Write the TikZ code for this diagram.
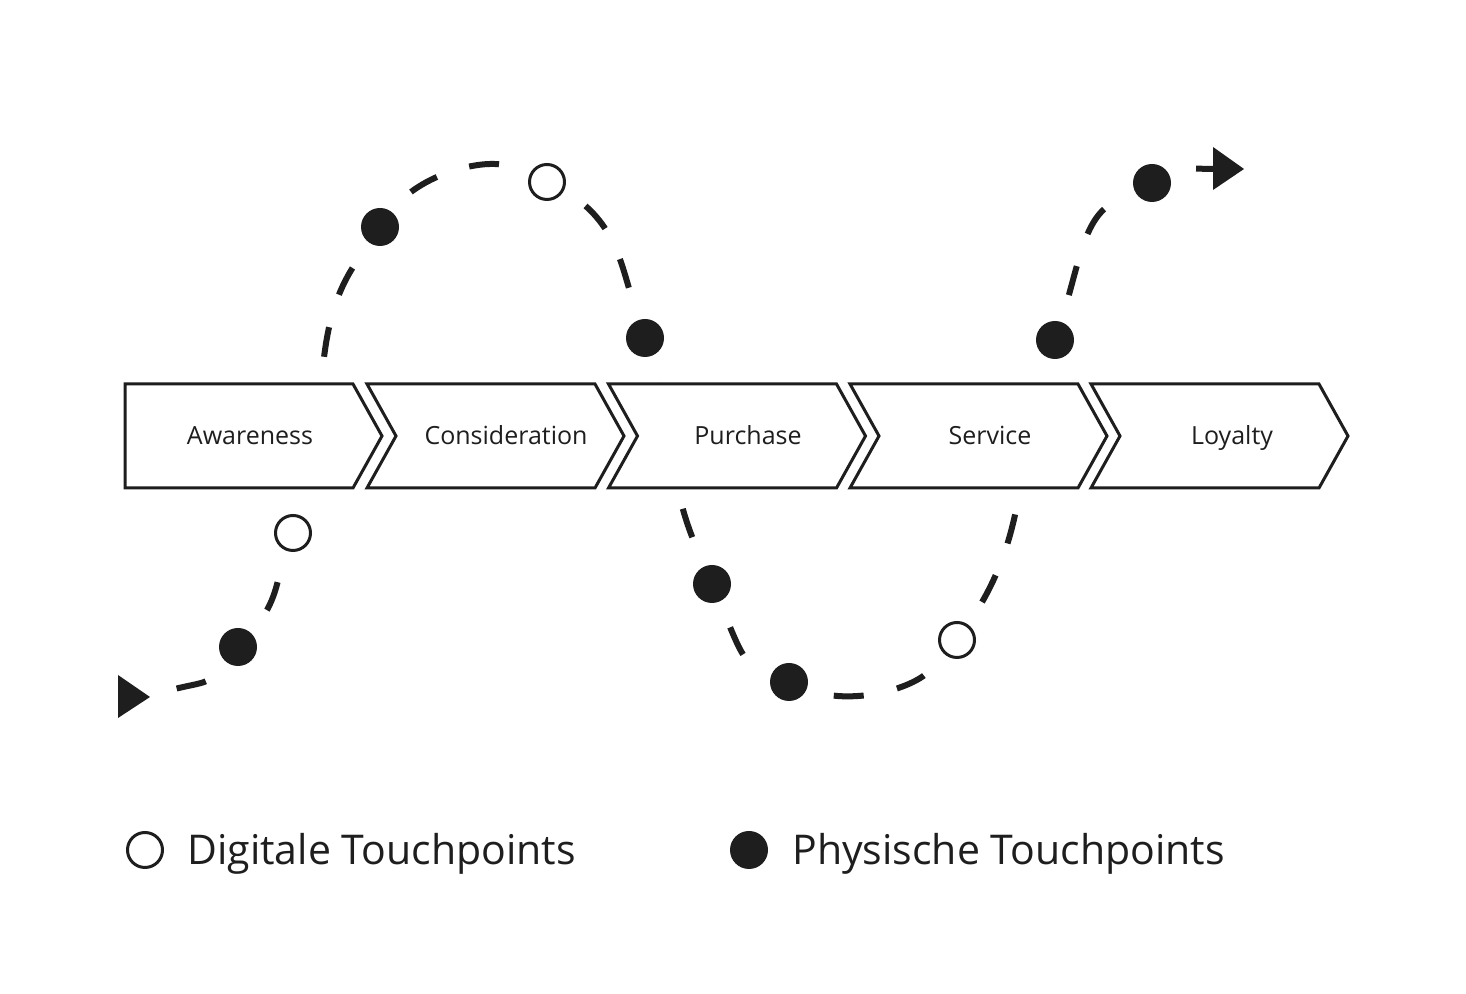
\documentclass[tikz,border=0pt]{standalone}
\usepackage{fontspec}
\setmainfont{Open Sans}
\definecolor{ink}{HTML}{1E1E1E}
\begin{document}
\begin{tikzpicture}[x=0.5pt,y=0.5pt,
  stage/.style={draw=ink, line width=1.5pt, fill=white, line join=miter},
  stagetext/.style={text=ink, font=\fontsize{12.5}{15}\selectfont, anchor=base, inner sep=0pt},
  dig/.style={circle, draw=ink, fill=white, line width=1.5pt, minimum size=17.5pt, inner sep=0pt, outer sep=0pt},
  phy/.style={circle, fill=ink, minimum size=19pt, inner sep=0pt, outer sep=0pt},
  trail/.style={draw=ink, line width=3pt, dash pattern=on 15pt off 17pt, dash phase=18pt, shorten >=12pt},
  headfill/.style={fill=ink},
  legendtext/.style={text=ink, font=\fontsize{20.5}{24}\selectfont, anchor=base west, inner sep=0pt}]
\path[fill=white] (0,0) rectangle (1466,994);
\useasboundingbox (0,0) rectangle (1466,994);

% touchpoints
\coordinate (S) at (150,297);
\node[phy] (m1) at (238,347) {};
\node[dig] (m2) at (293,461) {};
\node[phy] (m3) at (380,767) {};
\node[dig] (m4) at (547,812) {};
\node[phy] (m5) at (645,656) {};
\node[phy] (m6) at (712,410) {};
\node[phy] (m7) at (789,312) {};
\node[dig] (m8) at (957,354) {};
\node[phy] (m9) at (1055,654) {};
\node[phy] (m10) at (1152,811) {};
\coordinate (Eb) at (1213,825);

% journey path
\draw[trail] (S) to[out=22,in=228] (m1);
\draw[trail] (m1) to[out=48,in=252] (m2);
\draw[trail, dash phase=15pt] (m2) to[out=72,in=236] (m3);
\draw[trail] (m3) to[out=54,in=158,looseness=0.85] (m4);
\draw[trail] (m4) to[out=-28,in=108] (m5);
\draw[trail] (m5) to[out=-75,in=113] (m6);
\draw[trail] (m6) to[out=-67,in=153] (m7);
\draw[trail] (m7) to[out=-22,in=228,looseness=0.85] (m8);
\draw[trail] (m8) to[out=55,in=252] (m9);
\draw[trail] (m9) to[out=72,in=207] (m10);
\draw[trail, shorten >=0pt] (m10) to[out=27,in=180] (Eb);

% arrow heads
\fill[headfill] (S) -- ++(-32,22) -- ++(0,-43) -- cycle;
\fill[headfill] (Eb) -- ++(0,22) -- ++(31,-22) -- ++(-31,-21) -- cycle;

% stages
\draw[stage] (125,610) -- (353,610) -- (382,558) -- (353,506) -- (125,506) -- cycle;
\foreach \L in {367,608.5,850,1091}{
  \draw[stage] (\L,610) -- ++(228,0) -- ++(29,-52) -- ++(-29,-52) -- ++(-228,0) -- ++(29,52) -- cycle;
}
\node[stagetext] (t1) at (250,549) {Awareness};
\node[stagetext] (t2) at (506,549) {Consideration};
\node[stagetext] (t3) at (748,549) {Purchase};
\node[stagetext] (t4) at (990,549) {Service};
\node[stagetext] (t5) at (1232,549) {Loyalty};

% legend
\node[dig] (ld) at (145,144) {};
\node[legendtext] (lt1) at (187,129) {Digitale Touchpoints};
\node[phy] (lp) at (749,144) {};
\node[legendtext] (lt2) at (792,129) {Physische Touchpoints};
\end{tikzpicture}
\end{document}
